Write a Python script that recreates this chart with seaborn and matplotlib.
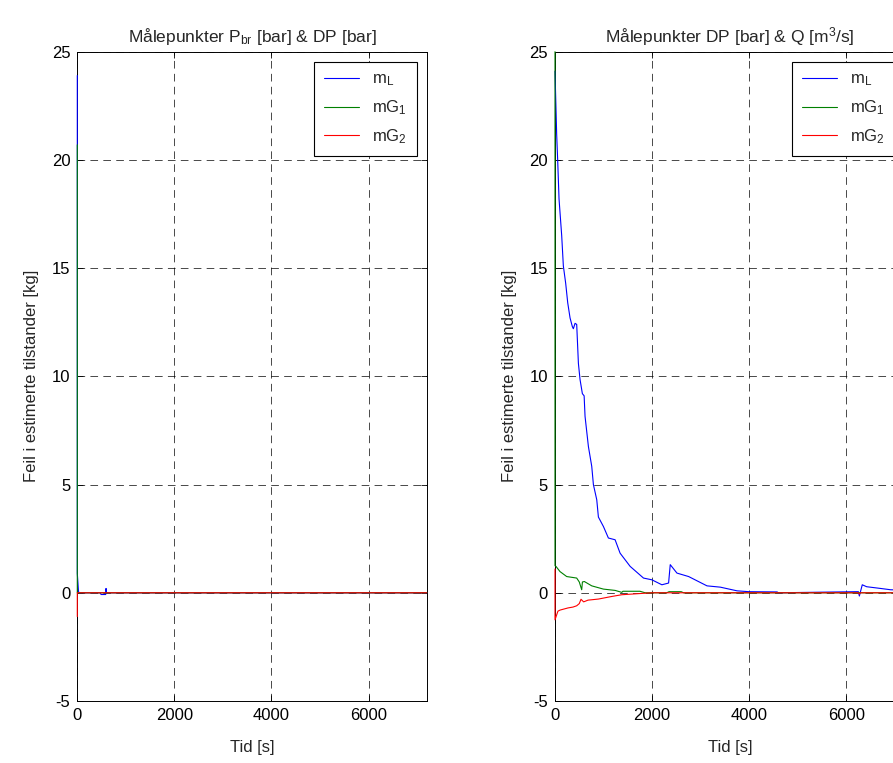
import numpy as np
import pandas as pd
import matplotlib
matplotlib.use("Agg")
import matplotlib.pyplot as plt
import seaborn as sns

# ---- data -----------------------------------------------------------------
series_names = ["m$_L$", "mG$_1$", "mG$_2$"]
series_colors = ["#0000ff", "#008000", "#ff0000"]

# Left panel: measurements P_br & DP
left_t_mL = [0, 0, 25, 40, 470, 490, 585, 592, 600, 7200]
left_mL = [23.9, 0.9, 0.05, 0.0, 0.0, -0.08, -0.08, 0.2, 0.0, 0.0]
left_t_mG1 = [0, 0, 7200]
left_mG1 = [20.7, 0.0, 0.0]
left_t_mG2 = [0, 0, 7200]
left_mG2 = [-1.1, 0.0, 0.0]

# Right panel: measurements DP & Q
right_t_mL = [0, 34, 55, 83, 138, 172, 220, 262, 310, 357, 378, 413, 447, 482,
              516, 564, 600, 619, 688, 757, 791, 860, 894, 998, 1100, 1238,
              1341, 1548, 1823, 1995, 2202, 2340, 2374, 2512, 2753, 3131,
              3406, 3750, 4000, 4576, 4600, 6200, 6250, 6270, 6330, 6420,
              6708, 6914, 7200]
right_mL = [24.1, 21.2, 20.0, 18.2, 16.5, 15.1, 14.3, 13.4, 12.7, 12.3, 12.2,
            12.45, 12.4, 10.6, 9.85, 9.2, 9.1, 8.15, 6.76, 5.84, 5.0, 4.3,
            3.5, 3.06, 2.53, 2.45, 1.83, 1.22, 0.68, 0.6, 0.37, 0.45, 1.3,
            0.91, 0.75, 0.32, 0.26, 0.09, 0.05, 0.04, 0.0, 0.05, 0.05, -0.15,
            0.37, 0.28, 0.2, 0.14, 0.12]
right_t_mG1 = [0, 0, 20, 103, 241, 447, 500, 550, 565, 605, 757, 998, 1238,
               1376, 1400, 1750, 1857, 2300, 2350, 2600, 2650, 7200]
right_mG1 = [25.0, 1.25, 1.22, 0.98, 0.75, 0.68, 0.5, 0.14, 0.5, 0.52, 0.32,
             0.17, 0.11, 0.02, 0.07, 0.07, 0.0, 0.0, 0.05, 0.05, 0.0, 0.0]
right_t_mG2 = [0, 0, 60, 103, 268, 370, 447, 500, 536, 590, 680, 894, 1170,
               1376, 1650, 1995, 6250, 6270, 6290, 7200]
right_mG2 = [1.1, -1.25, -0.85, -0.8, -0.7, -0.66, -0.6, -0.5, -0.3, -0.42,
             -0.34, -0.29, -0.17, -0.09, -0.05, 0.0, 0.0, -0.06, 0.0, 0.0]

x_ticks = [0, 2000, 4000, 6000]
y_ticks = [-5, 0, 5, 10, 15, 20, 25]

left_title = "Målepunkter P$_{\\mathregular{br}}$ [bar] & DP [bar]"
right_title = "Målepunkter DP [bar] & Q [m$^{\\mathregular{3}}$/s]"
y_label = "Feil i estimerte tilstander [kg]"
x_label = "Tid [s]"

# ---- style ----------------------------------------------------------------
sns.set_theme(style="ticks")
plt.rcParams["font.family"] = ["Liberation Sans", "DejaVu Sans"]
plt.rcParams["mathtext.fontset"] = "custom"
plt.rcParams["mathtext.rm"] = "Liberation Sans"
plt.rcParams["mathtext.it"] = "Liberation Sans"
plt.rcParams["mathtext.default"] = "regular"
plt.rcParams["lines.scale_dashes"] = False
FS = 12
FS_TITLE = 12.5

fig = plt.figure(figsize=(8.93, 7.63), dpi=100)
W, H = 893.0, 763.0
ax_w = 349.5 / W
ax_h = (701.0 - 51.7) / H
bottom = (H - 701.0) / H
ax_left = fig.add_axes([77.3 / W, bottom, ax_w, ax_h])
ax_right = fig.add_axes([555.0 / W, bottom, ax_w, ax_h])

panels = [
    (ax_left, left_title,
     [left_t_mL, left_t_mG1, left_t_mG2], [left_mL, left_mG1, left_mG2]),
    (ax_right, right_title,
     [right_t_mL, right_t_mG1, right_t_mG2], [right_mL, right_mG1, right_mG2]),
]

for ax, title, ts, vs in panels:
    handles = []
    # draw the series one by one so that mG2 ends up on top
    for k, (name, color, t, v) in enumerate(zip(series_names, series_colors,
                                                 ts, vs)):
        df = pd.DataFrame({"Tid": t, "verdi": v})
        sns.lineplot(data=df, x="Tid", y="verdi", color=color,
                     estimator=None, sort=False, linewidth=0.8,
                     legend=False, ax=ax, zorder=3 + k)
        line = ax.get_lines()[-1]
        line.set_snap(False)
        # let the jump at t = 0 show fully on top of the axis line
        line.set_clip_on(False)
        handles.append(line)
    ax.set_xlim(0, 7200)
    ax.set_ylim(-5, 25)
    ax.set_xticks(x_ticks)
    ax.set_yticks(y_ticks)
    ax.set_xticklabels([str(v) for v in x_ticks])
    ax.set_yticklabels([str(v) for v in y_ticks])
    ax.grid(True, color="black", linewidth=0.5, linestyle=(0, (5.5, 3.8)))
    ax.set_axisbelow(True)
    for sp in ax.spines.values():
        sp.set_visible(True)
        sp.set_color("black")
        sp.set_linewidth(0.7)
    ax.tick_params(direction="in", length=4, width=0.6, top=True, right=True,
                   labelsize=FS, colors="black", pad=5)
    ax.set_title(title, fontsize=FS_TITLE, pad=7)
    ax.set_xlabel(x_label, fontsize=FS, labelpad=12)
    ax.set_ylabel(y_label, fontsize=FS, labelpad=9)
    leg = ax.legend(handles, series_names, loc="upper right", fontsize=FS,
                    frameon=True, fancybox=False, edgecolor="black",
                    framealpha=1.0, borderaxespad=0.6, handlelength=2.1,
                    handletextpad=0.75, labelspacing=0.6, borderpad=0.6)
    leg.get_frame().set_linewidth(0.8)
    leg.set_zorder(10)

fig.savefig("out.png", dpi=100)
